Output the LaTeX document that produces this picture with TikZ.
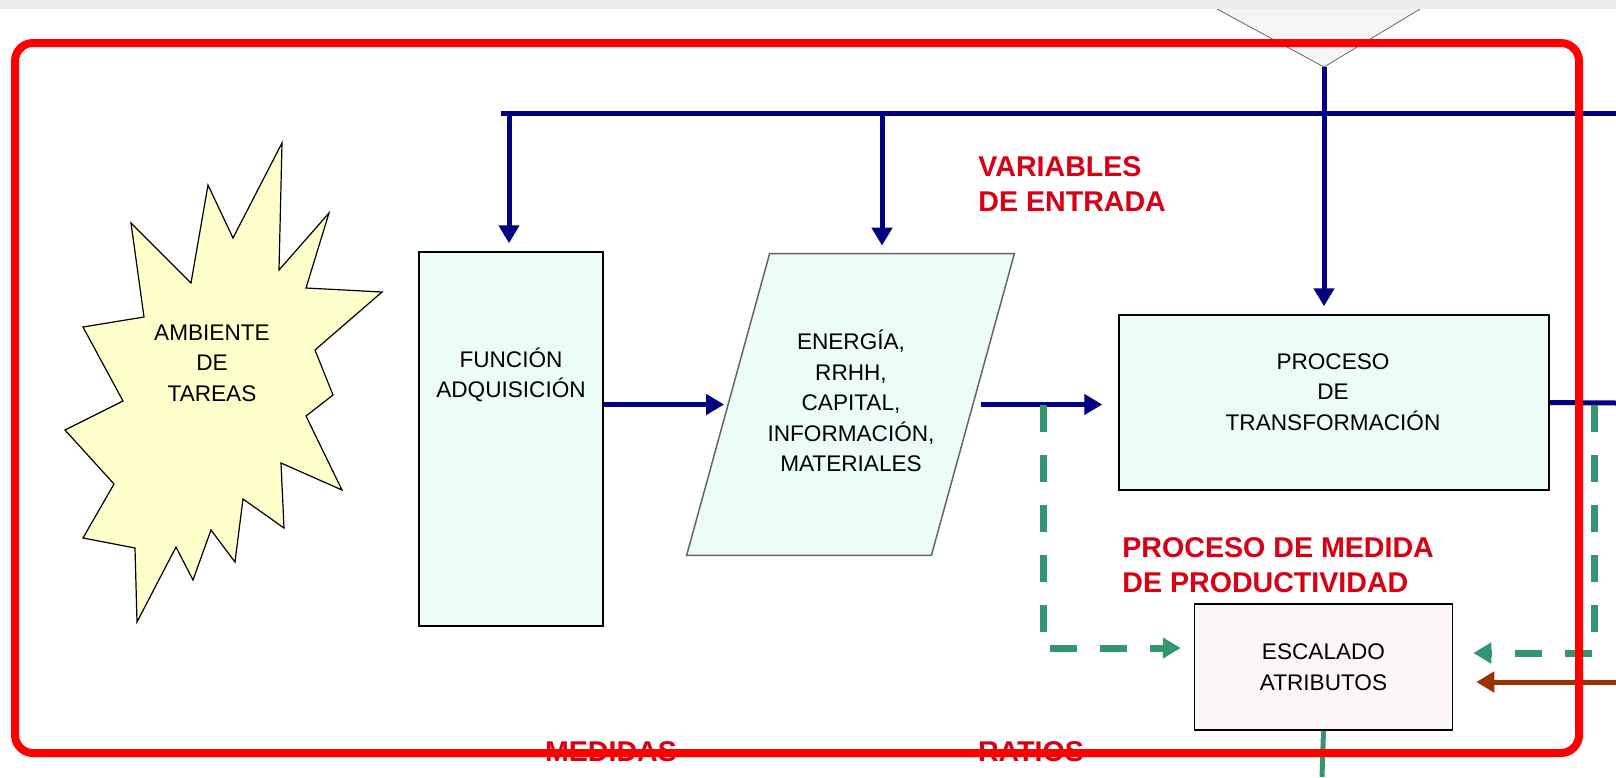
\documentclass[tikz,border=0pt]{standalone}
\usepackage{fontspec}
\setmainfont{Liberation Sans}
\usetikzlibrary{arrows.meta,positioning}
\definecolor{azul}{RGB}{0,0,128}
\definecolor{verde}{RGB}{51,150,110}
\definecolor{marron}{RGB}{153,51,0}
\definecolor{rojotexto}{RGB}{215,0,20}
\definecolor{celeste}{RGB}{236,252,248}
\definecolor{crema}{RGB}{255,255,204}
\definecolor{rosado}{RGB}{252,246,246}
\tikzset{
  texto/.style   = {font=\fontsize{11.3}{15.25}\selectfont, align=center},
  basic/.style   = {texto, draw, line width=0.75pt},
  caja/.style    = {basic, rectangle, fill=celeste},
  rotulo/.style  = {font=\fontsize{14.3}{17.5}\selectfont\bfseries, text=rojotexto,
                    align=left, inner sep=0pt},
  flujo/.style   = {draw=azul, line width=2.5pt},
  control/.style = {draw=verde, line width=3.5pt, dash pattern=on 13.5pt off 11.5pt}
}

\begin{document}
\begin{tikzpicture}[x=0.5pt, y=-0.5pt, >={Triangle[length=9pt,width=10pt]}]
\useasboundingbox (0,0) rectangle (1616,777);

% triangle coming from above, and the grey strip
\draw[black!60, fill=black!4] (1217,9) -- (1324,67) coordinate (vertice) -- (1420,9);
\fill[black!8] (0,0) rectangle (1616,9);

% task environment (star)
\draw[fill=crema, line width=0.6pt] (131,223) -- (191,283) -- (208,185) -- (233,238)
  -- (282,143) -- (279,270) -- (329,213) -- (306,288) -- (382,292) -- (315,350)
  -- (333,395) -- (306,416) -- (342,490) -- (281,463) -- (284,528) -- (243,499)
  -- (235,562) -- (211,530) -- (193,580) -- (176,547) -- (137,622) -- (135,548)
  -- (83,538) -- (114,484) -- (65,430) -- (123,401) -- (83,327) -- (144,317) -- cycle;
\node[texto] (ambiente) at (212,363) {AMBIENTE\\DE\\TAREAS};

% boxes
\node[caja, minimum width=92pt, minimum height=187pt] (adq) at (511,439) {};
\node[texto] (adqtxt) at (511,375) {FUNCIÓN\\ADQUISICIÓN};

% resources (parallelogram around the node body)
\node[minimum width=122pt, minimum height=150.5pt, inner sep=0pt] (insumos) at (850.5,404.5) {};
\draw[fill=celeste, draw=black!60, line width=0.75pt]
  ([xshift=20.75pt]insumos.north west) -- ([xshift=20.75pt]insumos.north east)
  -- ([xshift=-20.75pt]insumos.south east) -- ([xshift=-20.75pt]insumos.south west) -- cycle;
\node[texto] (insumostxt) at (851,401) {ENERGÍA,\\RRHH,\\CAPITAL,\\INFORMACIÓN,\\MATERIALES};

\node[caja, minimum width=215pt, minimum height=87.5pt] (proc) at (1334,402.5) {};
\node[texto] (proctxt) at (1333,392) {PROCESO\\DE\\TRANSFORMACIÓN};

\node[basic, fill=rosado, minimum width=129pt, minimum height=63pt] (escalado)
      at (1323.5,667) {ESCALADO\\ATRIBUTOS};

% red labels
\node[rotulo, anchor=west] (varent) at (978,184.5) {VARIABLES\\DE ENTRADA};
\node[rotulo, anchor=west] (medprod) at (1122,565.5) {PROCESO DE MEDIDA\\DE PRODUCTIVIDAD};
\node[rotulo] (medidas) at (611,752) {MEDIDAS};
\node[rotulo] (ratios) at (1031,752) {RATIOS};

% points on the lines
\coordinate (bus) at (501,113);
\coordinate (b1) at (509,113);
\coordinate (b2) at (882,113);
\coordinate (bordeA) at (1616,113);
\coordinate (bordeB) at (1616,403);
\coordinate (bordeC) at (1616,682);
\coordinate (abajo) at (1322,777);
\coordinate (g1) at (1043,405);
\coordinate (g2) at (1594,405);

% input flows
\draw[flujo] (bus) -- (bordeA);
\foreach \b/\nodo in {b1/adq, b2/insumos}
  \draw[flujo, ->, shorten >=4pt] (\b) -- (\b |- \nodo.north);
\draw[flujo, ->, shorten >=4pt] (vertice) -- (vertice |- proc.north);
\draw[flujo, ->, shorten >=2pt] (adq.east |- insumos.west) -- (insumos.west);
\draw[flujo, ->, shorten <=4pt, shorten >=8pt] (insumos.east) -- (insumos.east -| proc.west);
\draw[flujo] (proc.east) -- (bordeB);

% measurement
\draw[control, ->, shorten >=6.5pt] (g1) |- ([yshift=9.5pt]escalado.west);
\draw[control, ->, shorten >=10pt] (g2) |- ([yshift=7pt]escalado.east);
\draw[marron, line width=2.5pt, ->, shorten >=11.5pt] (bordeC) -- ([yshift=-7.5pt]escalado.east);
\draw[verde, line width=2.5pt] (escalado.south) -- (abajo);

% red frame
\draw[red, line width=4pt, rounded corners=9pt] (15,43) rectangle (1579,753);
\end{tikzpicture}
\end{document}
